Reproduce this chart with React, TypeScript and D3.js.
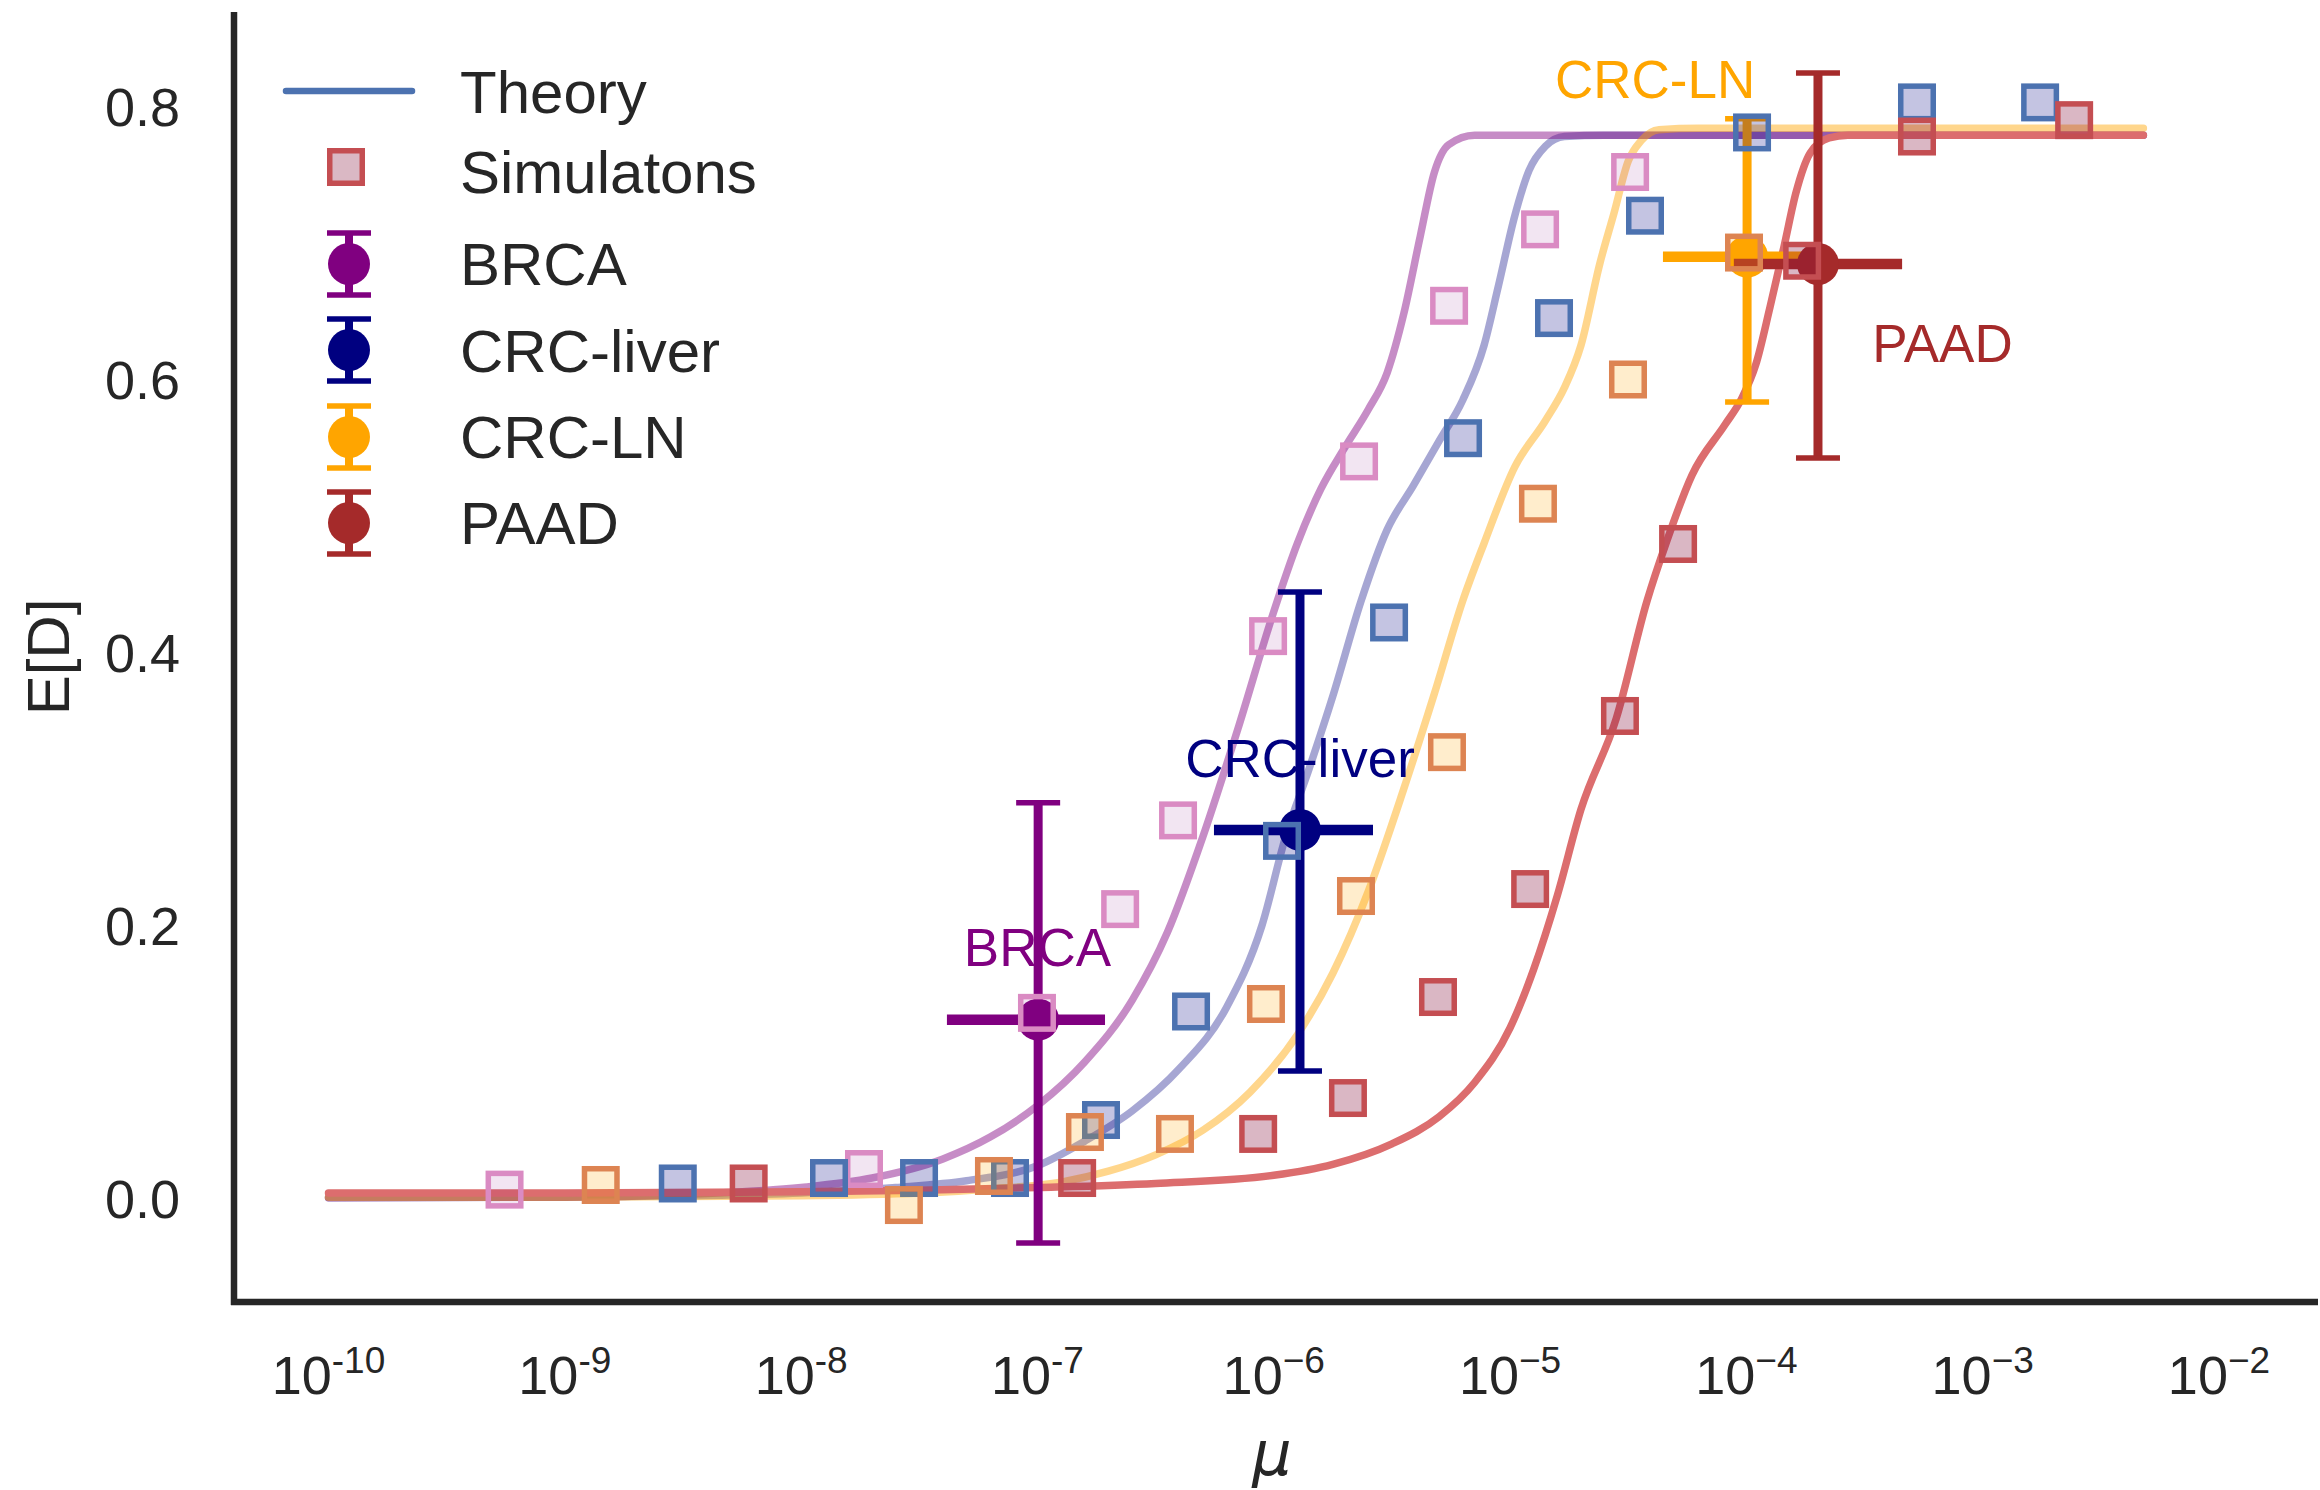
import React from 'react';
import * as d3 from 'd3';

// ---------- axis ticks ----------
const xTickExp = [-10, -9, -8, -7, -6, -5, -4, -3, -2];
const yTicks = [0.0, 0.2, 0.4, 0.6, 0.8];

// ---------- theory curves (log10 mu, E[D]) ----------
const thBRCA_lx = [-10, -9, -8.5, -8.0, -7.7, -7.4, -7.2, -7.0, -6.8, -6.6, -6.45, -6.3, -6.15, -6.0, -5.9, -5.8, -5.7, -5.6, -5.52, -5.45, -5.38, -5.32, -5.26, -5.15, -2.32];
const thBRCA_y = [0.0005, 0.001, 0.003, 0.008, 0.015, 0.029, 0.045, 0.068, 0.1, 0.145, 0.195, 0.265, 0.345, 0.43, 0.48, 0.52, 0.55, 0.578, 0.605, 0.648, 0.705, 0.752, 0.772, 0.779, 0.779];

const thLiver_lx = [-10, -9, -8.5, -8.0, -7.6, -7.3, -7.0, -6.8, -6.6, -6.4, -6.2, -6.05, -5.95, -5.85, -5.75, -5.63, -5.52, -5.41, -5.3, -5.2, -5.11, -5.05, -4.98, -4.92, -4.85, -4.77, -4.6, -2.32];
const thLiver_y = [0.0005, 0.001, 0.002, 0.004, 0.008, 0.013, 0.024, 0.042, 0.064, 0.095, 0.14, 0.2, 0.265, 0.315, 0.368, 0.438, 0.49, 0.522, 0.555, 0.585, 0.625, 0.668, 0.72, 0.753, 0.771, 0.778, 0.779, 0.779];

const thLN_lx = [-10, -9, -8, -7.5, -7.2, -6.9, -6.7, -6.5, -6.3, -6.1, -5.9, -5.75, -5.6, -5.45, -5.32, -5.2, -5.11, -4.98, -4.85, -4.77, -4.7, -4.62, -4.56, -4.5, -4.445, -4.37, -4.2, -2.32];
const thLN_y = [0.001, 0.001, 0.002, 0.004, 0.007, 0.012, 0.02, 0.032, 0.05, 0.078, 0.12, 0.165, 0.225, 0.3, 0.37, 0.438, 0.48, 0.536, 0.57, 0.594, 0.625, 0.685, 0.722, 0.76, 0.775, 0.783, 0.784, 0.784];

const thPAAD_lx = [-10, -9, -8, -7.5, -7.0, -6.5, -6.0, -5.75, -5.5, -5.3, -5.15, -5.0, -4.9, -4.8, -4.7, -4.55, -4.42, -4.34, -4.23, -4.09, -4.02, -3.96, -3.9, -3.84, -3.79, -3.73, -3.65, -3.57, -2.32];
const thPAAD_y = [0.004, 0.004, 0.005, 0.006, 0.008, 0.011, 0.017, 0.025, 0.04, 0.06, 0.085, 0.125, 0.168, 0.222, 0.285, 0.352, 0.438, 0.48, 0.53, 0.567, 0.586, 0.611, 0.653, 0.698, 0.737, 0.766, 0.777, 0.779, 0.779];

// ---------- simulations (log10 mu, E[D]) ----------
const simBRCA_lx = [-9.255, -7.734, -7.002, -6.65, -6.405, -6.024, -5.639, -5.258, -4.873, -4.492];
const simBRCA_y = [0.0065, 0.0216, 0.136, 0.212, 0.277, 0.412, 0.54, 0.654, 0.71, 0.752];

const simLiver_lx = [-8.522, -7.882, -7.501, -7.116, -6.731, -6.35, -5.965, -5.512, -5.199, -4.814, -4.429, -3.976, -3.278, -2.757];
const simLiver_y = [0.011, 0.015, 0.015, 0.015, 0.0575, 0.137, 0.262, 0.422, 0.557, 0.645, 0.72, 0.781, 0.803, 0.803];

const simLN_lx = [-8.848, -7.565, -7.184, -6.799, -6.418, -6.033, -5.652, -5.267, -4.882, -4.501, -4.01];
const simLN_y = [0.0099, -0.0048, 0.0165, 0.0487, 0.0473, 0.1425, 0.2216, 0.327, 0.509, 0.6, 0.693];

const simPAAD_lx = [-8.222, -6.832, -6.066, -5.686, -5.305, -4.915, -4.535, -4.289, -3.764, -3.278, -2.613];
const simPAAD_y = [0.011, 0.015, 0.0473, 0.0736, 0.1476, 0.2267, 0.3535, 0.4795, 0.687, 0.778, 0.79];

// ---------- observed data with error bars ----------
const dataNames = ['BRCA', 'CRC-liver', 'CRC-LN', 'PAAD'];
const dataLogMu = [-6.997, -5.889, -3.997, -3.697];
const dataLogMuLo = [-7.383, -6.253, -4.353, -4.053];
const dataLogMuHi = [-6.714, -5.58, -3.641, -3.341];
const dataED = [0.131, 0.27, 0.69, 0.6846];
const dataEDLo = [-0.0326, 0.0934, 0.5835, 0.5425];
const dataEDHi = [0.29, 0.4443, 0.791, 0.8246];
const dataColors = ['#800080', '#000080', '#ffa500', '#a52a2a'];

// ---------- annotations ----------
const annLogMu = [-7.0, -5.889, -4.386, -3.17];
const annED = [0.17, 0.309, 0.806, 0.613];

const FONT = '"Liberation Sans", Arial, sans-serif';
const INK = '#262626';

function toPts(lx: number[], ys: number[]) {
  return lx.map((l, i) => [Math.pow(10, l), ys[i]] as [number, number]);
}

export default function App() {
  const W = 2320, H = 1490;
  const x = d3.scaleLog().domain([1e-10, 1e-2]).range([328.5, 2219]);
  const y = d3.scaleLinear().domain([0, 0.8]).range([1198.5, 106.5]);
  const line = d3.line<[number, number]>()
    .x(d => x(d[0]))
    .y(d => y(d[1]))
    .curve(d3.curveMonotoneX);

  const theory = [
    { pts: toPts(thLiver_lx, thLiver_y), color: '#000080', op: 0.35 },
    { pts: toPts(thBRCA_lx, thBRCA_y), color: '#800080', op: 0.45 },
    { pts: toPts(thLN_lx, thLN_y), color: '#ffa500', op: 0.45 },
    { pts: toPts(thPAAD_lx, thPAAD_y), color: '#dc6d6e', op: 1 },
  ];

  const sims = [
    { pts: toPts(simBRCA_lx, simBRCA_y), stroke: '#da8bc3', fill: '#800080', fop: 0.1 },
    { pts: toPts(simLiver_lx, simLiver_y), stroke: '#4c72b0', fill: '#000080', fop: 0.23 },
    { pts: toPts(simLN_lx, simLN_y), stroke: '#dd8452', fill: '#ffa500', fop: 0.2 },
    { pts: toPts(simPAAD_lx, simPAAD_y), stroke: '#c44e52', fill: '#84123a', fop: 0.3 },
  ];

  const SQ = 38, SQW = 5.5;
  const CAP = 22, CAPW = 5.5, R = 21;

  const legendRows = [113, 193, 285, 372, 458, 544];
  const legendLabels = ['Theory', 'Simulatons', ...dataNames];
  const legendCenters = [91, 167, 264, 350, 437, 523];
  const LX = 349;

  return (
    <svg width={W} height={H} style={{ position: 'absolute', left: 0, top: 0, background: '#fff' }} fontFamily={FONT}>
      <rect x={0} y={0} width={W} height={H} fill="#fff" />

      {/* theory curves */}
      {theory.map((t, i) => (
        <path key={'th' + i} d={line(t.pts) || ''} fill="none" stroke={t.color} strokeOpacity={t.op}
          strokeWidth={7.5} strokeLinecap="round" strokeLinejoin="round" />
      ))}

      {/* observed error bars */}
      {dataNames.map((n, i) => {
        const cx = x(Math.pow(10, dataLogMu[i]));
        const cy = y(dataED[i]);
        const c = dataColors[i];
        const yl = y(dataEDLo[i]), yh = y(dataEDHi[i]);
        return (
          <g key={'eb' + i}>
            <line x1={x(Math.pow(10, dataLogMuLo[i]))} x2={x(Math.pow(10, dataLogMuHi[i]))} y1={cy} y2={cy} stroke={c} strokeWidth={10.5} />
            <line x1={cx} x2={cx} y1={yl} y2={yh} stroke={c} strokeWidth={9} />
            <line x1={cx - CAP} x2={cx + CAP} y1={yl} y2={yl} stroke={c} strokeWidth={CAPW} />
            <line x1={cx - CAP} x2={cx + CAP} y1={yh} y2={yh} stroke={c} strokeWidth={CAPW} />
            <circle cx={cx} cy={cy} r={R} fill={c} />
          </g>
        );
      })}

      {/* simulation squares */}
      {sims.map((s, i) => (
        <g key={'sim' + i}>
          {s.pts.map((p, j) => (
            <rect key={j} x={x(p[0]) - (SQ - SQW) / 2} y={y(p[1]) - (SQ - SQW) / 2}
              width={SQ - SQW} height={SQ - SQW} fill={s.fill} fillOpacity={s.fop}
              stroke={s.stroke} strokeWidth={SQW} />
          ))}
        </g>
      ))}

      {/* annotations */}
      {dataNames.map((n, i) => (
        <text key={'ann' + i} x={x(Math.pow(10, annLogMu[i]))} y={y(annED[i])} fill={dataColors[i]}
          fontSize={53} textAnchor="middle">{n}</text>
      ))}

      {/* spines */}
      <line x1={234} x2={234} y1={12} y2={1305} stroke={INK} strokeWidth={6.5} />
      <line x1={231} x2={2318} y1={1302} y2={1302} stroke={INK} strokeWidth={6.5} />

      {/* y ticks */}
      {yTicks.map(t => (
        <text key={'yt' + t} x={180} y={y(t) + 19} fontSize={54} fill={INK} textAnchor="end">{t.toFixed(1)}</text>
      ))}

      {/* x ticks */}
      {xTickExp.map(e => (
        <text key={'xt' + e} x={x(Math.pow(10, e))} y={1394} fontSize={54} fill={INK} textAnchor="middle">
          10<tspan fontSize={37} dy={-21}>{(e > -7 ? '\u2212' : '-') + Math.abs(e)}</tspan>
        </text>
      ))}

      {/* axis labels */}
      <text x={1272} y={1475} fontSize={62} fill={INK} textAnchor="middle" fontStyle="italic"
        fontFamily='"DejaVu Sans", sans-serif'>μ</text>
      <text transform="translate(69,657) rotate(-90)" fontSize={60} fill={INK} textAnchor="middle">E[D]</text>

      {/* legend */}
      <line x1={286} x2={412} y1={legendCenters[0]} y2={legendCenters[0]} stroke="#4c72b0" strokeWidth={6.5} strokeLinecap="round" />
      <rect x={346 - (SQ - SQW) / 2} y={legendCenters[1] - (SQ - SQW) / 2} width={SQ - SQW} height={SQ - SQW}
        fill="#dab8c4" stroke="#c44e52" strokeWidth={SQW} />
      {dataNames.map((n, i) => {
        const cy = legendCenters[i + 2];
        const c = dataColors[i];
        return (
          <g key={'lg' + i}>
            <line x1={LX} x2={LX} y1={cy - 31} y2={cy + 31} stroke={c} strokeWidth={8} />
            <line x1={LX - CAP} x2={LX + CAP} y1={cy - 31} y2={cy - 31} stroke={c} strokeWidth={CAPW} />
            <line x1={LX - CAP} x2={LX + CAP} y1={cy + 31} y2={cy + 31} stroke={c} strokeWidth={CAPW} />
            <circle cx={LX} cy={cy} r={R} fill={c} />
          </g>
        );
      })}
      {legendLabels.map((l, i) => (
        <text key={'ll' + i} x={460} y={legendRows[i]} fontSize={60} fill={INK}>{l}</text>
      ))}
    </svg>
  );
}
